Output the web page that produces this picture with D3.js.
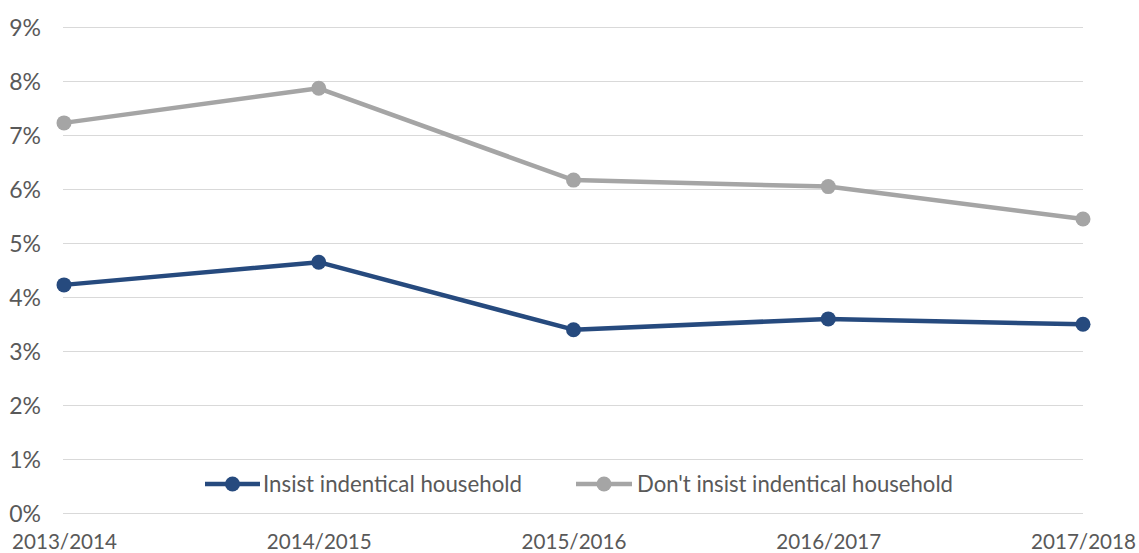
<!DOCTYPE html>
<html><head><meta charset="utf-8">
<script src="https://cdn.jsdelivr.net/npm/d3@7"></script>
<style>body{margin:0;background:#fff}svg{display:block}text{font-family:Lato,"Open Sans",sans-serif;fill:#595959}</style>
</head><body><svg id="c" width="1139" height="553"></svg>
<script>
const categories = ["2013/2014","2014/2015","2015/2016","2016/2017","2017/2018"];
const insist = [4.23, 4.65, 3.40, 3.60, 3.50];
const dontInsist = [7.23, 7.87, 6.17, 6.05, 5.45];
const yTicks = [0,1,2,3,4,5,6,7,8,9];
const seriesNames = ["Insist indentical household","Don't insist indentical household"];
const colors = ["#264a7e","#a5a5a5"];

const svg = d3.select("#c");
const x = d3.scalePoint().domain(categories).range([64,1083]);
const y = d3.scaleLinear().domain([0,9]).range([513.3,27.3]);

// gridlines
svg.append("g").selectAll("line").data(yTicks).join("line")
  .attr("x1",63).attr("x2",1083)
  .attr("y1",d=>Math.round(y(d))+0.5).attr("y2",d=>Math.round(y(d))+0.5)
  .attr("stroke","#d9d9d9").attr("stroke-width",1);

// y axis labels
const ya = svg.append("g").attr("transform","translate(41,0)")
  .call(d3.axisLeft(y).tickValues(yTicks).tickFormat(d=>d+"%").tickSize(0).tickPadding(0));
ya.select(".domain").remove();
ya.selectAll("text").attr("font-size",23).style("font-family","Lato,sans-serif").attr("fill","#595959").attr("dy","0.34em");

// x axis labels
const xa = svg.append("g").attr("transform","translate(0,533)")
  .call(d3.axisBottom(x).tickSize(0).tickPadding(0));
xa.select(".domain").remove();
xa.selectAll("text").attr("font-size",22).style("font-family","Lato,sans-serif").attr("fill","#595959")
  .attr("dy",0).attr("y",16).attr("textLength",105).attr("lengthAdjust","spacingAndGlyphs");

const line = d3.line().x((d,i)=>x(categories[i])).y(d=>y(d));
[dontInsist, insist].forEach((vals,k)=>{
  const c = k===0?colors[1]:colors[0];
  svg.append("path").datum(vals).attr("d",line).attr("fill","none")
    .attr("stroke",c).attr("stroke-width",4.5).attr("stroke-linejoin","round");
  svg.append("g").selectAll("circle").data(vals).join("circle")
    .attr("cx",(d,i)=>x(categories[i])).attr("cy",d=>y(d)).attr("r",7.5).attr("fill",c);
});

// legend
const leg = [
  {name:seriesNames[0], color:colors[0], x1:205, x2:260, tx:263, tw:259},
  {name:seriesNames[1], color:colors[1], x1:576, x2:632, tx:637, tw:316}
];
const ly = 484;
leg.forEach(l=>{
  const g = svg.append("g");
  g.append("line").attr("x1",l.x1).attr("x2",l.x2).attr("y1",ly).attr("y2",ly)
    .attr("stroke",l.color).attr("stroke-width",4.5);
  g.append("circle").attr("cx",(l.x1+l.x2)/2).attr("cy",ly).attr("r",7.5).attr("fill",l.color);
  g.append("text").attr("x",l.tx).attr("y",ly).attr("dy","0.35em").attr("font-size",23)
    .attr("textLength",l.tw).attr("lengthAdjust","spacingAndGlyphs").text(l.name);
});
</script></body></html>
